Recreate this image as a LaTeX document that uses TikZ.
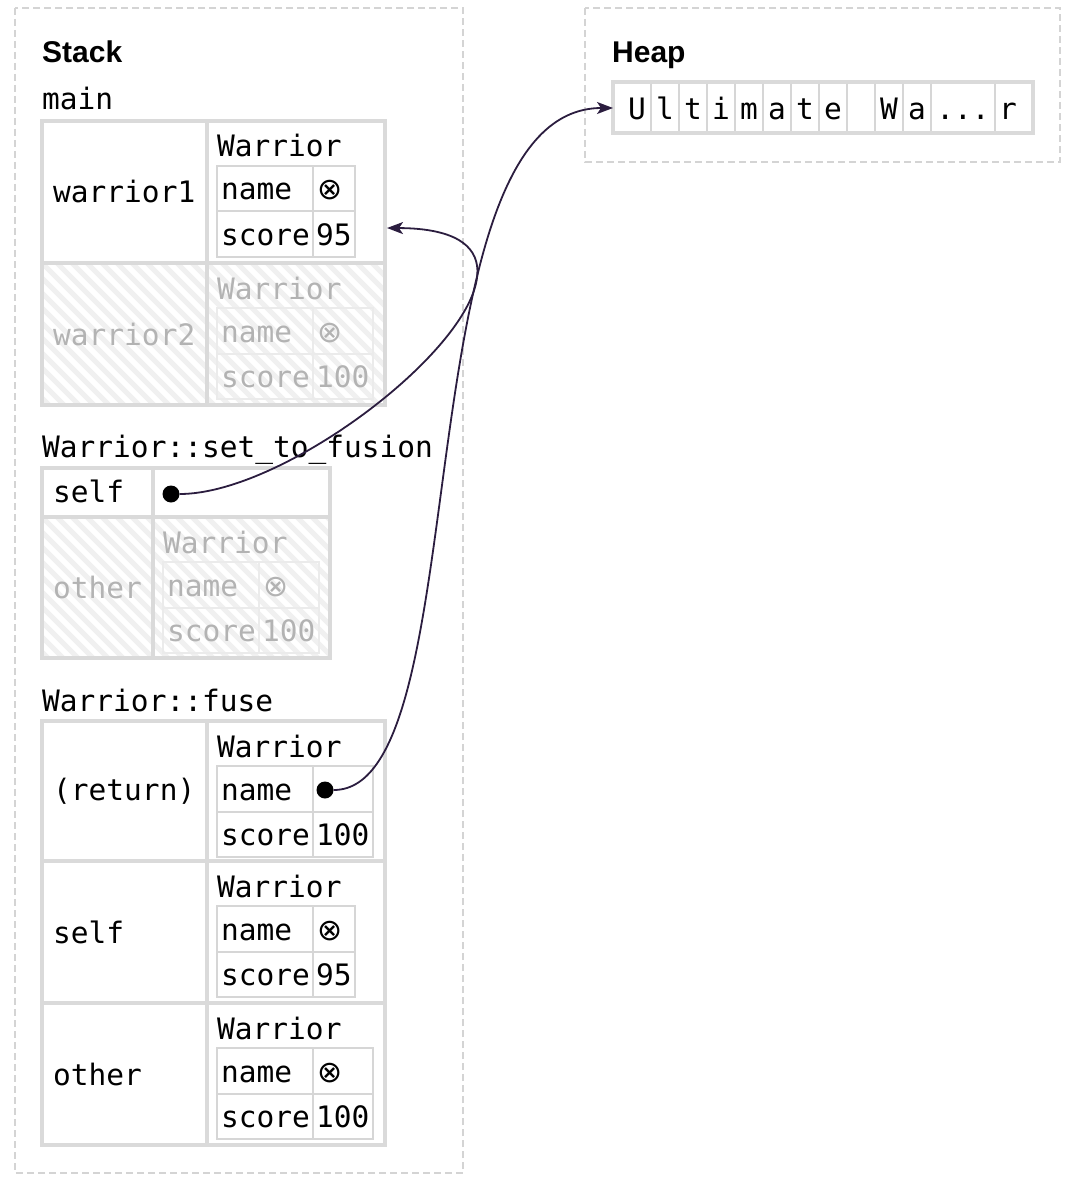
\documentclass[tikz,border=0pt]{standalone}
\usepackage{fontspec}
\setmainfont{Liberation Sans}
\newfontfamily\monof{DejaVu Sans Mono}
\newfontfamily\symf{DejaVu Sans}
\usetikzlibrary{arrows.meta}
\definecolor{framec}{HTML}{D4D4D4}
\definecolor{tblc}{HTML}{DADADA}
\definecolor{inlc}{HTML}{D6D6D6}
\definecolor{finlc}{HTML}{EBEBEB}
\definecolor{ftx}{HTML}{B3B3B3}
\definecolor{hatchc}{HTML}{F0F0F0}
\definecolor{ptrc}{HTML}{2B1D3F}
\tikzset{
 mono/.style={font=\fontsize{29.5}{35}\monof},
 txt/.style={anchor=base west, inner sep=0pt, mono, text=black},
 ftxt/.style={txt, text=ftx},
 outerln/.style={draw=tblc, line width=4pt},
 innerln/.style={draw=inlc, line width=2pt},
 finnerln/.style={draw=finlc, line width=2pt},
 framebox/.style={draw=framec, line width=1.5pt, dash pattern=on 7pt off 4pt},
 head/.style={anchor=base west, inner sep=0pt, font=\fontsize{30}{36}\selectfont\bfseries},
 ptr/.style={draw=ptrc, line width=1.8pt, -{Stealth[length=16pt,width=12pt,inset=4pt]}},
 dotnode/.style={circle, fill=black, inner sep=0pt, minimum size=17pt},
 hatchln/.style={draw=hatchc, line width=5pt},
}
\newcommand\hatchrect[4]{%
 \begin{scope}
 \clip (#1,#2) rectangle (#3,#4);
 \foreach \k in {0,...,50} \draw[hatchln] (#1-300+\k*15,#2) -- ++(320,320);
 \end{scope}}
\newcommand\wstruct[8]{%
 \draw[#8] (#2,#3) rectangle ++(96+#4,91);
 \draw[#8] (#2,#3+45.5) -- ++(96+#4,0);
 \draw[#8] (#2+96,#3) -- ++(0,91);
 \node[#7] (#1hdr) at (#2,#3-9) {Warrior};
 \node[#7] (#1name) at (#2+4,#3+34) {name};
 \node[#7] (#1score) at (#2+4,#3+79) {score};
 \node[#7] (#1sval) at (#2+99,#3+79) {#6};
 \node[#7, font=\fontsize{30}{36}\symf] (#1nval) at (#2+100,#3+34) {#5};
}
\begin{document}
\begin{tikzpicture}[x=1pt,y=-1pt]
\useasboundingbox (0,0) rectangle (1074,1190);
% frames
\draw[framebox] (15,8) rectangle (463,1173);
\draw[framebox] (585,8) rectangle (1060,162);
\node[head] (stackh) at (42,63) {Stack};
\node[head] (heaph) at (612,63) {Heap};

% ---- main
\node[txt] (mainl) at (42,110) {main};
\hatchrect{42}{263}{385}{405}
\draw[outerln] (42,121) rectangle (385,405);
\draw[outerln] (207,121) -- (207,405);
\draw[outerln] (42,263) -- (385,263);
\node[txt] (w1l) at (53,203) {warrior1};
\wstruct{wa}{217}{166}{42}{⊗}{95}{txt}{innerln}
\node[ftxt] (w2l) at (53,345) {warrior2};
\wstruct{wb}{217}{308}{60}{⊗}{100}{ftxt}{finnerln}

% ---- set_to_fusion
\node[txt] (stfl) at (42,457) {Warrior::set\_to\_fusion};
\hatchrect{42}{517}{330}{658}
\draw[outerln] (42,468) rectangle (330,658);
\draw[outerln] (153,468) -- (153,658);
\draw[outerln] (42,517) -- (330,517);
\node[txt] (sfself) at (53,502) {self};
\node[ftxt] (sfother) at (53,598) {other};
\wstruct{sc}{163}{562}{60}{⊗}{100}{ftxt}{finnerln}

% ---- fuse
\node[txt] (fusel) at (42,711) {Warrior::fuse};
\draw[outerln] (42,721) rectangle (385,1145);
\draw[outerln] (207,721) -- (207,1145);
\draw[outerln] (42,861) -- (385,861);
\draw[outerln] (42,1003) -- (385,1003);
\node[txt] (fret) at (53,800) {(return)};
\node[txt] (fself) at (53,943) {self};
\node[txt] (fother) at (53,1085) {other};
\wstruct{fr}{217}{766}{60}{}{100}{txt}{innerln}
\wstruct{fs}{217}{906}{42}{⊗}{95}{txt}{innerln}
\wstruct{fo}{217}{1048}{60}{⊗}{100}{txt}{innerln}

% ---- heap
\draw[outerln] (613,82) rectangle (1033,133);
\foreach \k in {0,...,10} \draw[innerln, line width=1.5pt] (651+28*\k,84) -- (651+28*\k,131);
\draw[innerln, line width=1.5pt] (995,84) -- (995,131);
\foreach \c/\i in {U/0,l/1,t/2,i/3,m/4,a/5,t/6,e/7,W/9,a/10}
  \node[mono, anchor=base, inner sep=0pt] (hc\i) at (637+28*\i,120) {\c};
\node[mono, anchor=base, inner sep=0pt] (hdots) at (963,120) {...};
\node[mono, anchor=base, inner sep=0pt] (hr) at (1008,120) {r};

% ---- pointers
\node[dotnode] (selfdot) at (171,494) {};
\node[dotnode] (retdot) at (325,790) {};
\coordinate (w1tgt) at (387,228);
\coordinate (heaptgt) at (613,108);
\draw[ptr] (selfdot) .. controls (320,494) and (620,229) .. (w1tgt);
\draw[ptr] (retdot) .. controls (480,790) and (400,108) .. (heaptgt);
\end{tikzpicture}
\end{document}
